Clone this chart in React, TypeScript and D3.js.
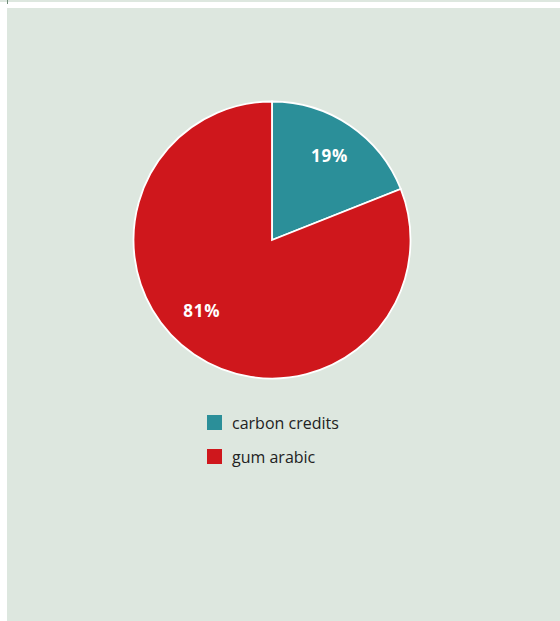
import React from "react";
import * as d3 from "d3";

const categories = ["carbon credits", "gum arabic"];
const values = [19, 81];
const colors = ["#2b8f99", "#cf171c"];
const labels = ["19%", "81%"];
const labelFractions = [0.5, 0.536];
const labelRadii = [0.74, 0.72];

export default function App() {
  const W = 560, H = 621;
  const cx = 272, cy = 240, r = 138.5;
  const pie = d3.pie<number>().sort(null).value((d) => d)(values);
  const arc = d3.arc<d3.PieArcDatum<number>>().innerRadius(0).outerRadius(r);
  return (
    <svg width={W} height={H} style={{ position: "absolute", left: 0, top: 0 }}>
      <rect x={0} y={0} width={W} height={2} fill="#dde7df" />
      <rect x={7} y={0} width={1} height={4} fill="#6f8a78" />
      <rect x={7} y={8} width={W - 7} height={H - 8} fill="#dde7df" />
      <g transform={`translate(${cx},${cy})`}>
        {pie.map((p, i) => (
          <path key={i} d={arc(p) || ""} fill={colors[i]} stroke="#fff" strokeWidth={1.8} />
        ))}
        {pie.map((p, i) => {
          const a = p.startAngle + (p.endAngle - p.startAngle) * labelFractions[i];
          const x = Math.sin(a) * r * labelRadii[i];
          const y = -Math.cos(a) * r * labelRadii[i];
          return (
            <text key={i} x={x} y={y} textAnchor="middle" dominantBaseline="central"
              fill="#fff" fontFamily="'Open Sans', sans-serif" fontWeight={700} fontSize={17}
              letterSpacing={0.8}>
              {labels[i]}
            </text>
          );
        })}
      </g>
      {categories.map((c, i) => (
        <g key={c} transform={`translate(207,${415 + i * 34})`}>
          <rect width={15} height={15} fill={colors[i]} />
          <text x={25} y={7.5} dominantBaseline="central" fill="#222"
            fontFamily="'Open Sans', sans-serif" fontSize={16}>{c}</text>
        </g>
      ))}
    </svg>
  );
}
